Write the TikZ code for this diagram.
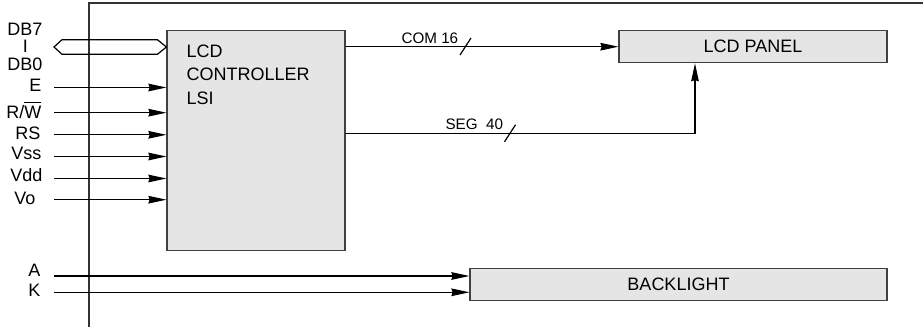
\documentclass[tikz,border=0pt]{standalone}
\usepackage{fontspec}
\setmainfont{Liberation Sans}
\usepackage{tikz}
\usetikzlibrary{arrows.meta, positioning, calc}

\tikzset{
  blk/.style={draw=black!75, fill=black!10, line width=0.6pt, inner sep=0pt},
  sig/.style={line width=0.6pt, -{Stealth[length=9pt,width=3.8pt,inset=0.6pt]}},
  pin/.style={anchor=base east, inner sep=0pt},
  buslab/.style={anchor=base west, inner sep=0pt, font=\fontsize{7.6}{9}\selectfont},
}

\begin{document}
\begin{tikzpicture}[x=0.5pt, y=-0.5pt, line width=0.6pt, font=\fontsize{9}{10.8}\selectfont]
\useasboundingbox (0,0) rectangle (923,327);

% module outline
\draw[black!80] (89,327) -- (89,3) -- (923,3);

% blocks
\node[blk, minimum width=89pt, minimum height=110pt] (ctrl) at (256,140.5) {};
\node[anchor=north west, align=left, inner sep=0pt, font=\fontsize{9}{11.6}\selectfont] (ctrltxt) at (186,44.5) {LCD\\CONTROLLER\\LSI};
\node[blk, minimum width=134pt, minimum height=16pt] (panel) at (753,46.7) {LCD PANEL};
\node[blk, minimum width=208.5pt, minimum height=15.9pt] (light) at (678.5,284.2) {BACKLIGHT};

% pin names
\node[pin] (db7) at (43,35) {DB7};
\node[pin, anchor=base] (dbbar) at (25.5,52.5) {I};
\node[pin] (db0) at (43,70) {DB0};
\node[pin] (e) at (42,91.7) {E};
\node[pin] (rw) at (42,118) {R/$\overline{\hbox{W}}$};
\node[pin] (rs) at (41,139.3) {RS};
\node[pin] (vss) at (42,159.3) {Vss};
\node[pin] (vdd) at (43,181.7) {Vdd};
\node[pin] (vo) at (36,204) {Vo};
\node[pin] (a) at (41,276) {A};
\node[pin] (k) at (41,296.7) {K};

% data bus
\coordinate (busL) at (54,47);
\coordinate (busR) at (busL -| ctrl.west);
\draw (busL) -- ($(busL)+(8,-7.3)$) -- ($(busR)+(-9,-7.3)$) -- (busR)
  -- ($(busR)+(-9,7.3)$) -- ($(busL)+(8,7.3)$) -- cycle;

% control inputs
\foreach \n/\y in {e/87.5, rw/112.7, rs/134.8, vss/156.5, vdd/178.5, vo/199.7} {
  \coordinate (in\n) at (54,\y);
  \draw[sig] (in\n) -- (in\n -| ctrl.west);
}

% backlight inputs
\foreach \n/\y in {a/276, k/292.3} {
  \coordinate (in\n) at (54,\y);
  \draw[sig] (in\n) -- (in\n -| light.west);
}

% COM and SEG lines
\draw[sig] (ctrl.east |- panel.west) -- (panel.west);
\node[buslab] (comlab) at (401,43.3) {COM 16};
\draw (460,55) -- (471,38);

\coordinate (segturn) at (695,133.3);
\draw[sig] (ctrl.east |- segturn) -- (segturn) -- (segturn |- panel.south);
\node[buslab] (seglab) at (445,129) {SEG\ \ 40};
\draw (504.5,141.8) -- (515.5,124.8);
\end{tikzpicture}
\end{document}
